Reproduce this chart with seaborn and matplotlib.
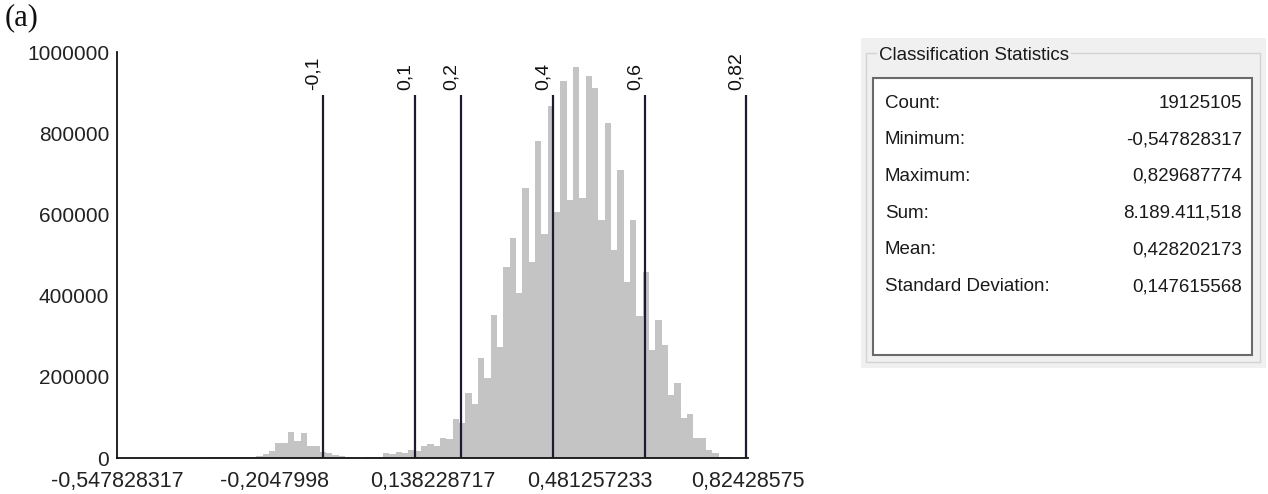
import numpy as np
import pandas as pd
import matplotlib
matplotlib.use("Agg")
import matplotlib.pyplot as plt
import seaborn as sns
from matplotlib.patches import Rectangle

# ---------------- data ----------------
data_min = -0.547828317
data_max = 0.829687774
n_bins = 100
# histogram counts per bin (thousands)
counts_k = [
    0, 0, 0, 0, 0, 0, 0, 0, 0, 0,
    0, 0, 0, 0, 2, 2, 1.5, 2.5, 2, 3,
    2.5, 3, 4, 10, 17, 36, 36, 65, 42, 61,
    30, 30, 14, 13, 7, 6, 2, 1.5, 1, 1.5,
    2, 2.5, 13, 9, 15, 13, 19, 17, 30, 35,
    30, 50, 46, 97, 86, 160, 133, 246, 197, 352,
    273, 470, 542, 406, 665, 483, 781, 552, 867, 605,
    929, 635, 962, 640, 941, 911, 586, 825, 512, 709,
    433, 586, 350, 458, 266, 340, 278, 155, 185, 98,
    108, 49, 49, 20, 12, 3, 2, 1, 0, 0,
]
x_tick_values = [-0.547828317, -0.2047998, 0.138228717, 0.481257233, 0.82428575]
x_tick_labels = ["-0,547828317", "-0,2047998", "0,138228717", "0,481257233", "0,82428575"]
y_tick_values = [0, 200000, 400000, 600000, 800000, 1000000]
y_tick_labels = ["0", "200000", "400000", "600000", "800000", "1000000"]
breaks = [-0.1, 0.1, 0.2, 0.4, 0.6, 0.82]
break_labels = ["-0,1", "0,1", "0,2", "0,4", "0,6", "0,82"]
break_line_top = 895000
stat_names = ["Count:", "Minimum:", "Maximum:", "Sum:", "Mean:", "Standard Deviation:"]
stat_values = ["19125105", "-0,547828317", "0,829687774", "8.189.411,518", "0,428202173", "0,147615568"]

edges = np.linspace(data_min, data_max, n_bins + 1)
centers = (edges[:-1] + edges[1:]) / 2
df = pd.DataFrame({"value": centers, "count": np.array(counts_k, dtype=float) * 1000})

# ---------------- style ----------------
sns.set_style("white")
plt.rcParams["font.family"] = ["Liberation Sans", "DejaVu Sans"]

W, H = 1268, 494
fig = plt.figure(figsize=(W / 100, H / 100), dpi=100)
fig.patch.set_facecolor("white")


def fx(x):
    return x / W


def fy(y):
    return 1 - y / H


ax = fig.add_axes([fx(117), fy(458), fx(748) - fx(117), fy(52) - fy(458)])
ax.set_facecolor("white")

sns.histplot(data=df, x="value", weights="count", bins=[float(e) for e in edges], ax=ax,
             color="#c4c4c4", alpha=1, edgecolor="none", linewidth=0, zorder=1)

ax.vlines(breaks, 0, break_line_top, color="#1c1c2e", lw=1.6, zorder=3)
for b, lbl in zip(breaks, break_labels):
    ax.annotate(lbl, xy=(b, break_line_top), xytext=(-1, 3),
                textcoords="offset points", rotation=90, ha="right", va="bottom",
                fontsize=14, color="#111111")

ax.set_xlim(x_tick_values[0], x_tick_values[-1])
ax.set_ylim(0, 1000000)
ax.set_xticks(x_tick_values)
ax.set_xticklabels(x_tick_labels)
ax.set_yticks(y_tick_values)
ax.set_yticklabels(y_tick_labels)
ax.set_xlabel("")
ax.set_ylabel("")

for s in ["top", "right"]:
    ax.spines[s].set_visible(False)
for s in ["left", "bottom"]:
    ax.spines[s].set_color("#111111")
    ax.spines[s].set_linewidth(1.3)

ax.tick_params(axis="y", direction="inout", length=9, width=1.2, color="#111111",
               labelsize=15, labelcolor="#222222", pad=1)
ax.tick_params(axis="x", direction="out", length=9, width=1.2, color="#111111",
               labelsize=15.5, labelcolor="#222222", pad=0)

# ---------------- "(a)" ----------------
fig.text(fx(5), fy(3), "(a)", ha="left", va="top", fontsize=22,
         family=["Liberation Serif", "DejaVu Serif"], color="#111111")

# ---------------- statistics panel ----------------
fig.patches.append(Rectangle((fx(861), fy(368)), fx(1266) - fx(861), fy(38) - fy(368),
                             transform=fig.transFigure, facecolor="#f0f0f0",
                             edgecolor="none", zorder=0))
fig.patches.append(Rectangle((fx(866), fy(362)), fx(1260) - fx(866), fy(53) - fy(362),
                             transform=fig.transFigure, facecolor="none",
                             edgecolor="#d2d2d2", lw=1.0, zorder=1))
fig.patches.append(Rectangle((fx(873), fy(355)), fx(1252) - fx(873), fy(78) - fy(355),
                             transform=fig.transFigure, facecolor="white",
                             edgecolor="#6a6a6a", lw=1.5, zorder=2))
fig.text(fx(879), fy(55), "Classification Statistics", ha="left", va="center",
         fontsize=13.5, color="#1a1a1a",
         bbox=dict(facecolor="#f0f0f0", edgecolor="none", pad=1.5))
for k, (nm, val) in enumerate(zip(stat_names, stat_values)):
    yy = 103 + 36.7 * k
    fig.text(fx(885), fy(yy), nm, ha="left", va="center", fontsize=13.5, color="#1a1a1a")
    fig.text(fx(1242), fy(yy), val, ha="right", va="center", fontsize=13.5, color="#1a1a1a")

fig.savefig("out.png", dpi=100)
